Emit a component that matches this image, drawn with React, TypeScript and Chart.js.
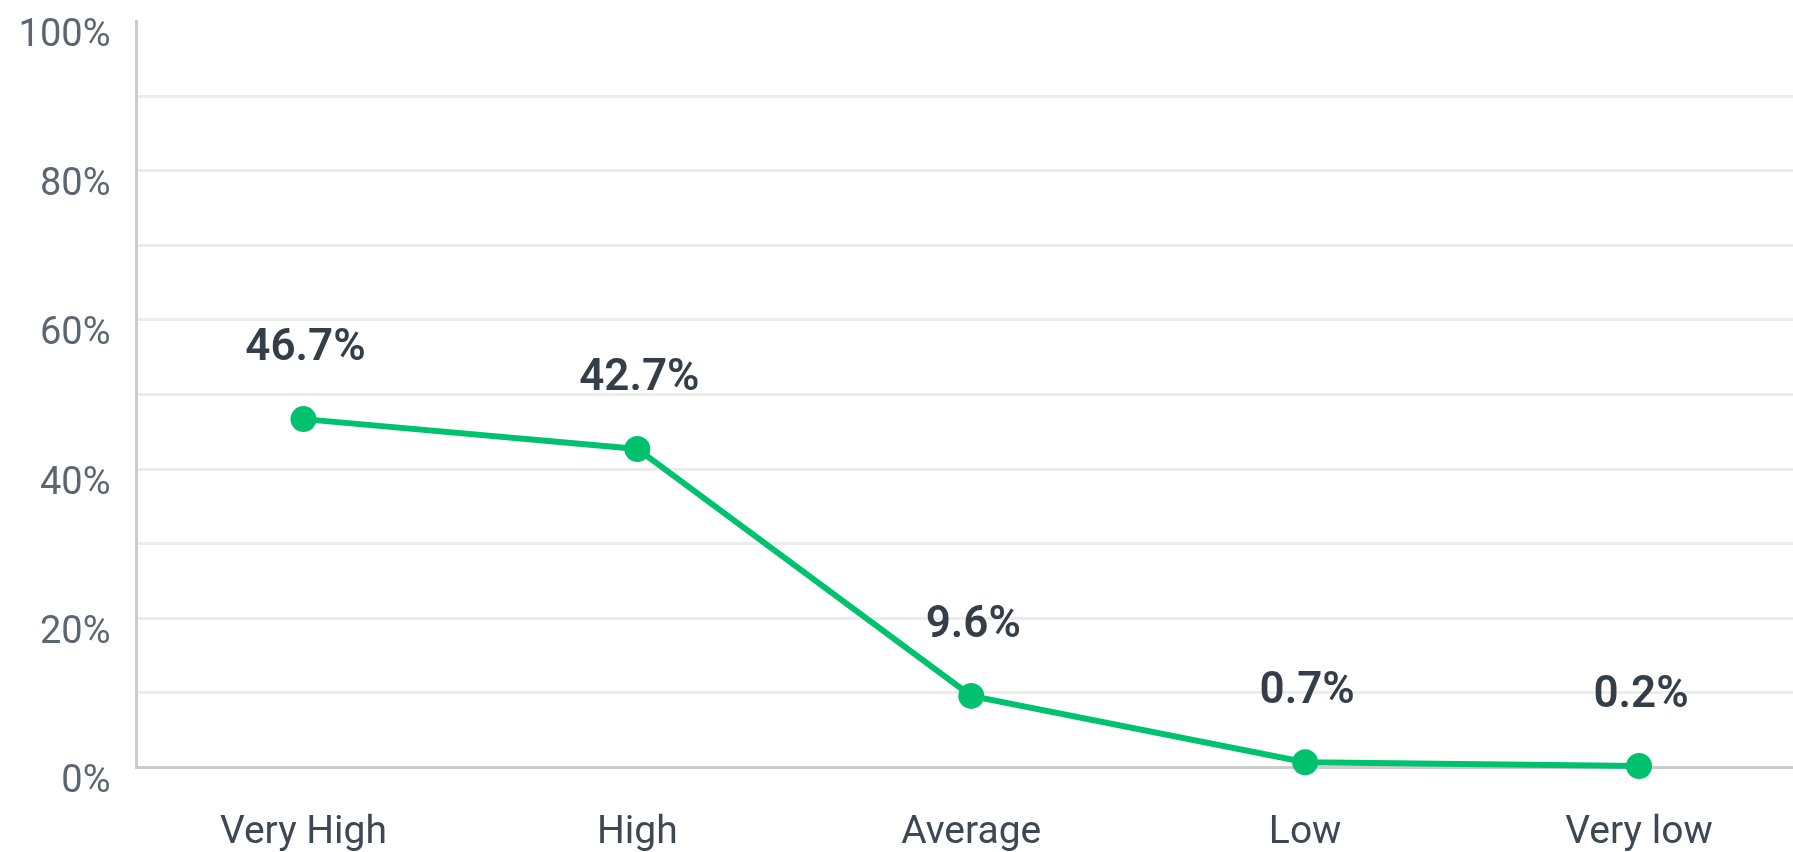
import React, { useEffect, useRef } from "react";
import { Chart, registerables } from "chart.js";

Chart.register(...registerables);

const categories = ["Very High", "High", "Average", "Low", "Very low"];
const values = [46.7, 42.7, 9.6, 0.7, 0.2];
const valueLabels = ["46.7%", "42.7%", "9.6%", "0.7%", "0.2%"];
const yTickValues = [0, 20, 40, 60, 80, 100];

const GREEN = "#00c26e";
const FONT = "Roboto, 'Noto Sans', sans-serif";

const dataLabelPlugin = {
  id: "valueLabels",
  afterDatasetsDraw(chart: any) {
    const ctx = chart.ctx;
    const meta = chart.getDatasetMeta(0);
    ctx.save();
    ctx.font = `600 44px ${FONT}`;
    ctx.fillStyle = "#343e48";
    ctx.textAlign = "center";
    ctx.textBaseline = "middle";
    meta.data.forEach((pt: any, i: number) => {
      ctx.fillText(valueLabels[i], pt.x + 2, pt.y - 70);
    });
    ctx.restore();
  },
};

export default function App() {
  const ref = useRef<HTMLCanvasElement>(null);

  useEffect(() => {
    if (!ref.current) return;
    const chart = new Chart(ref.current, {
      type: "line",
      data: {
        labels: categories,
        datasets: [
          {
            data: values,
            borderColor: GREEN,
            backgroundColor: GREEN,
            borderWidth: 6,
            pointRadius: 13,
            pointHoverRadius: 13,
            pointBackgroundColor: GREEN,
            pointBorderWidth: 0,
            tension: 0,
            fill: false,
            clip: false,
          },
        ],
      },
      options: {
        responsive: true,
        maintainAspectRatio: false,
        animation: false,
        devicePixelRatio: 1,
        layout: {
          autoPadding: false,
          padding: { top: 21.5, right: 0, left: 0, bottom: 0 },
        },
        plugins: {
          legend: { display: false },
          tooltip: { enabled: false },
        },
        scales: {
          x: {
            offset: true,
            grid: { display: false, drawTicks: false },
            border: { display: true, color: "#cccccc", width: 3 },
            ticks: {
              padding: 42,
              color: "#3e4852",
              font: { family: FONT, size: 39 },
              maxRotation: 0,
            },
            afterFit: (scale: any) => {
              scale.height = 84.5;
              scale.paddingLeft = 0;
              scale.paddingRight = 0;
            },
          },
          y: {
            min: 0,
            max: 100,
            grid: {
              drawTicks: false,
              lineWidth: 3,
              color: (c: any) =>
                c.tick && c.tick.value === 0
                  ? "#cccccc"
                  : c.tick && c.tick.value === 100
                  ? "rgba(0,0,0,0)"
                  : "#ececec",
            },
            border: { display: true, color: "#cccccc", width: 3 },
            ticks: {
              stepSize: 10,
              padding: 26,
              labelOffset: 15,
              color: "#5b6670",
              font: { family: FONT, size: 38 },
              callback: (v: any) =>
                yTickValues.includes(Number(v)) ? `${v}%` : "",
            },
            afterFit: (scale: any) => {
              scale.width = 136.5;
              scale.paddingTop = 0;
              scale.paddingBottom = 0;
            },
          },
        },
      },
      plugins: [dataLabelPlugin],
    });
    return () => chart.destroy();
  }, []);

  return (
    <div
      style={{
        position: "fixed",
        left: 0,
        top: 0,
        width: 1793,
        height: 852,
        overflow: "hidden",
        background: "#ffffff",
      }}
    >
      <div style={{ position: "relative", width: 1806, height: 852 }}>
        <canvas ref={ref} />
      </div>
    </div>
  );
}
